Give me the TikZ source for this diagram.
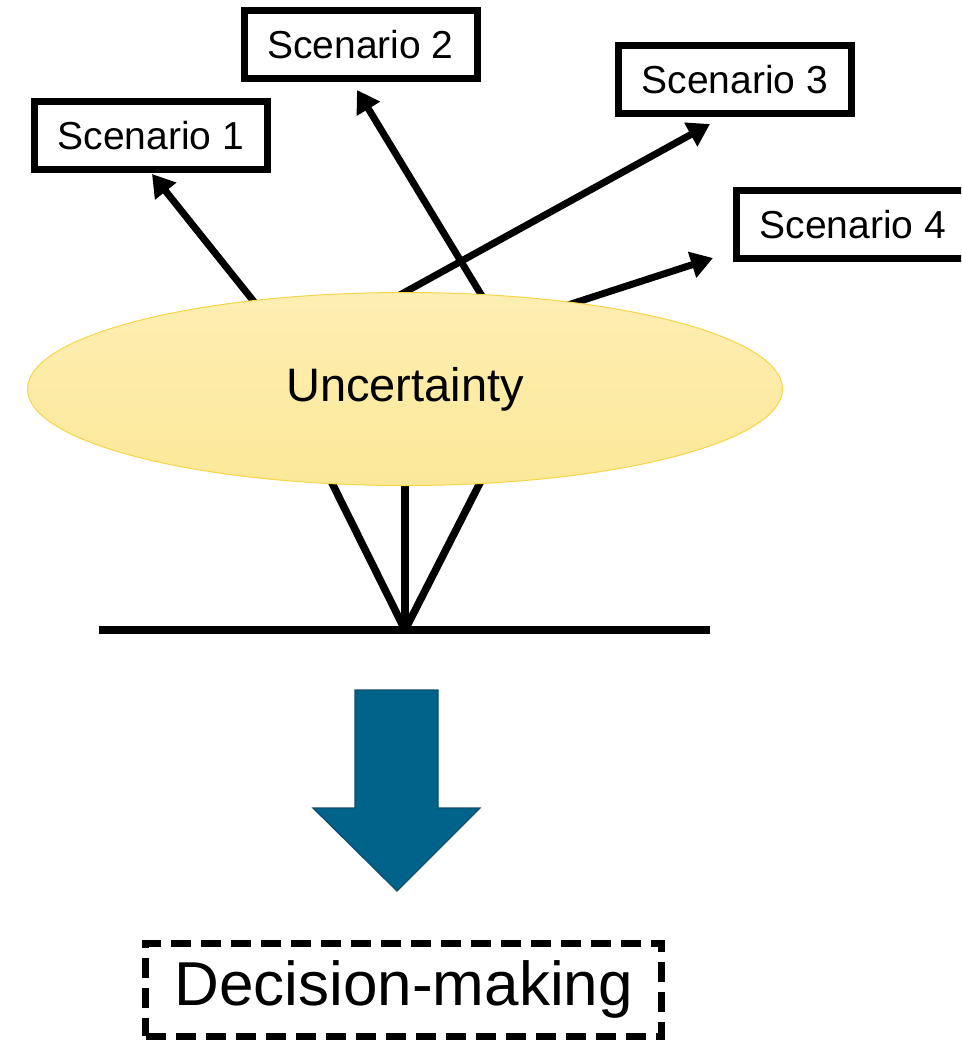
\documentclass[tikz,border=0pt]{standalone}
\usepackage{fontspec}
\setmainfont{Liberation Sans}
\usetikzlibrary{arrows.meta,shapes.geometric,backgrounds}
\definecolor{ellfillA}{HTML}{FDEEB3}
\definecolor{ellfillB}{HTML}{FCE898}
\definecolor{elldraw}{HTML}{F5D54A}
\definecolor{bluefill}{HTML}{00648A}
\definecolor{blueedge}{HTML}{0E4D6A}
\begin{document}
\begin{tikzpicture}[x=1pt,y=-1pt,
  scen/.style={draw,line width=7pt,minimum width=233pt,minimum height=68pt,inner sep=0pt,font=\fontsize{39}{45}\selectfont},
  link/.style={line width=7.5pt},
  arr/.style={line width=7pt,-{Triangle[length=22pt,width=26pt]}},
  blockarrow/.style={fill=bluefill,draw=blueedge,line width=1.2pt,line join=miter},
  decbox/.style={draw,dash pattern=on 20pt off 10pt,line width=7pt,minimum width=516pt,minimum height=93pt,inner sep=0pt,font=\fontsize{62}{70}\selectfont},
  uncnode/.style={ellipse,draw=elldraw,line width=1pt,top color=ellfillA,bottom color=ellfillB,minimum width=755pt,minimum height=193pt,inner sep=0pt,font=\fontsize{47}{55}\selectfont}
]
\useasboundingbox (0,0) rectangle (961,1041);
\clip (0,0) rectangle (961,1041);

% scenario boxes
\node[scen] (s1) at (151,135.5) {Scenario 1};
\node[scen] (s2) at (360.5,44.5) {Scenario 2};
\node[scen] (s3) at (735,79.5) {Scenario 3};
\node[scen] (s4) at (853,224.5) {Scenario 4};

% ellipse
\node[uncnode] (unc) at (405,389) {Uncertainty};

% connector end points
\coordinate (t1) at (259,308); \coordinate (h1) at (152,174);
\coordinate (t2) at (485,301); \coordinate (h2) at (357,90);
\coordinate (t3) at (398,296); \coordinate (h3) at (710,124);
\coordinate (t4) at (568,305); \coordinate (h4) at (713,258);
\coordinate (b1) at (328.5,476); \coordinate (b2) at (405,476); \coordinate (b3) at (483.5,476);
\coordinate (apex) at (405,630);
\coordinate (hl) at (99,630); \coordinate (hr) at (710,630);

\begin{pgfonlayer}{background}
  \draw[arr] (t1) -- (h1);
  \draw[arr] (t2) -- (h2);
  \draw[arr] (t3) -- (h3);
  \draw[arr] (t4) -- (h4);
  \draw[link] (b1) -- (apex);
  \draw[link] (b2) -- (apex);
  \draw[link] (b3) -- (apex);
  \draw[line width=8pt] (hl) -- (hr);
\end{pgfonlayer}

% block arrow
\draw[blockarrow] (355,690) -- (438,690) -- (438,808) -- (480,808) -- (397,891) -- (313,808) -- (355,808) -- cycle;

% decision box
\node[decbox] (dec) at (403.75,989.75) {Decision-making};
\end{tikzpicture}
\end{document}
